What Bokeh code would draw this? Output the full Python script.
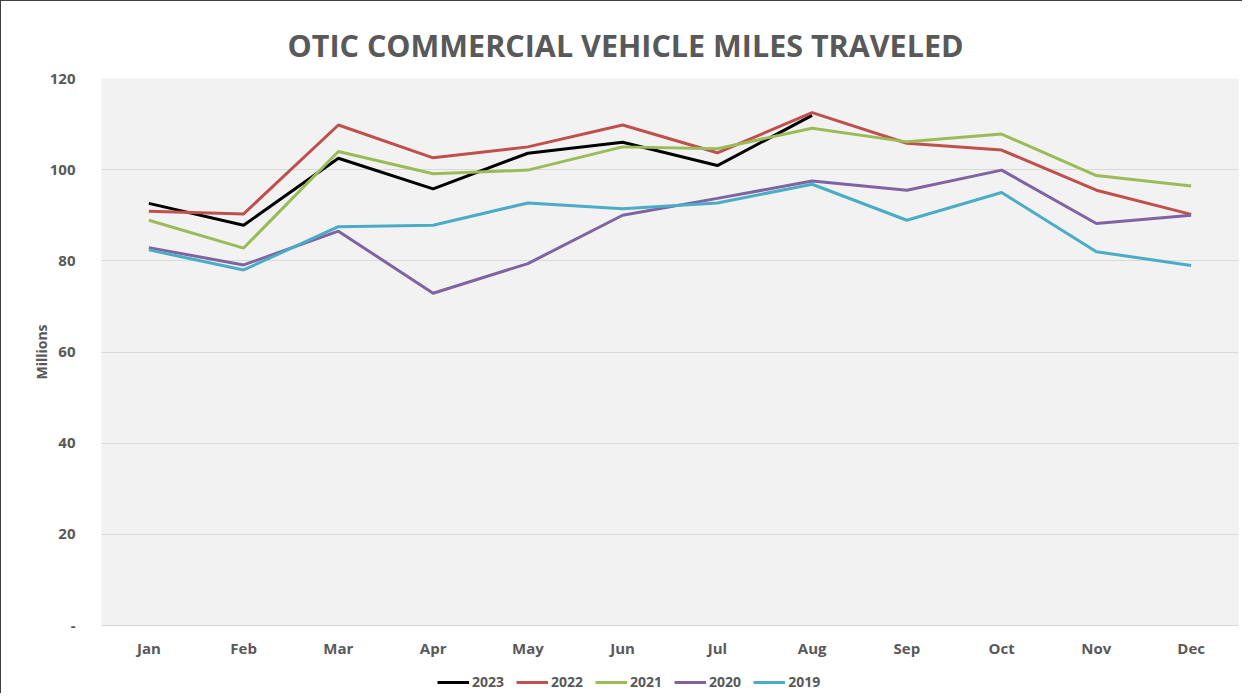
from bokeh.plotting import figure
from bokeh.layouts import column
from bokeh.models import FactorRange, Range1d, FixedTicker, Legend, LegendItem
from bokeh.embed import file_html
from bokeh.resources import INLINE

months = ["Jan", "Feb", "Mar", "Apr", "May", "Jun", "Jul", "Aug", "Sep", "Oct", "Nov", "Dec"]
y2023 = [92.6, 87.8, 102.5, 95.8, 103.6, 106.0, 100.9, 111.9]
y2022 = [90.9, 90.3, 109.8, 102.6, 105.0, 109.8, 103.7, 112.5, 105.8, 104.3, 95.5, 90.2]
y2021 = [88.9, 82.8, 104.0, 99.1, 99.9, 105.0, 104.6, 109.1, 106.1, 107.8, 98.7, 96.4]
y2020 = [82.9, 79.1, 86.5, 72.9, 79.4, 90.0, 93.7, 97.5, 95.5, 99.9, 88.2, 90.0]
y2019 = [82.4, 78.0, 87.5, 87.8, 92.7, 91.4, 92.7, 96.8, 88.9, 95.0, 82.0, 79.0]
series_names = ["2023", "2022", "2021", "2020", "2019"]
series_values = [y2023, y2022, y2021, y2020, y2019]
colors = ["#000000", "#C0504D", "#9BBB59", "#8064A2", "#4BACC6"]
y_ticks = [0, 20, 40, 60, 80, 100, 120]

FONT = "Open Sans"
GREY = "#595959"

p = figure(width=1241, height=660, x_range=FactorRange(*months, range_padding=0),
           y_range=Range1d(0, 120), output_backend="svg", toolbar_location=None,
           title="OTIC COMMERCIAL VEHICLE MILES TRAVELED",
           min_border_left=100, min_border_right=4, min_border_top=77, min_border_bottom=36)

p.background_fill_color = "#F2F2F2"
p.border_fill_color = "white"
p.outline_line_color = None

p.title.align = "left"
p.title.offset = 186
p.title.text_font = FONT
p.title.text_font_size = "30.5px"
p.title.text_font_style = "bold"
p.title.text_color = GREY
p.title.standoff = 26

p.xgrid.grid_line_color = None
p.ygrid.grid_line_color = "#D9D9D9"
p.ygrid.grid_line_width = 1

p.yaxis.ticker = FixedTicker(ticks=y_ticks)
p.yaxis.major_label_overrides = {0: "-"}
p.yaxis.axis_line_color = None
p.yaxis.major_tick_line_color = None
p.yaxis.minor_tick_line_color = None
p.yaxis.major_label_standoff = 20
p.yaxis.axis_label = "Millions"
p.yaxis.axis_label_text_font = FONT
p.yaxis.axis_label_text_font_size = "14px"
p.yaxis.axis_label_text_font_style = "bold"
p.yaxis.axis_label_text_color = GREY
p.yaxis.axis_label_standoff = -4

p.xaxis.axis_line_color = "#D9D9D9"
p.xaxis.major_tick_line_color = None
p.xaxis.minor_tick_line_color = None
p.xaxis.major_label_standoff = 6

for ax in (p.xaxis, p.yaxis):
    ax.major_label_text_font = FONT
    ax.major_label_text_font_size = "15px"
    ax.major_label_text_font_style = "bold"
    ax.major_label_text_color = GREY

for name, vals, c in zip(series_names, series_values, colors):
    p.line(months[:len(vals)], vals, line_color=c, line_width=3)

# legend strip below the chart (its lines lie outside its visible range; only the legend shows)
lg = figure(width=1241, height=32, x_range=FactorRange(*months, range_padding=0),
            y_range=Range1d(1000, 1001),
            output_backend="svg", toolbar_location=None, x_axis_type=None, y_axis_type=None,
            min_border=0, min_border_left=0, min_border_right=0, min_border_top=0, min_border_bottom=0)
lg.outline_line_color = None
lg.xgrid.grid_line_color = None
lg.ygrid.grid_line_color = None
lg.background_fill_color = "white"
lg.border_fill_color = "white"

items = []
for name, vals, c in zip(series_names, series_values, colors):
    r = lg.line(months[:len(vals)], vals, line_color=c, line_width=3)
    items.append(LegendItem(label=name, renderers=[r]))

legend = Legend(items=items, orientation="horizontal", location=(336, 2),
                glyph_width=32, glyph_height=16, label_standoff=3, spacing=12,
                padding=0, margin=0, label_height=16,
                label_text_font=FONT, label_text_font_size="14px",
                label_text_font_style="bold", label_text_color=GREY,
                border_line_color=None, background_fill_alpha=0)
lg.add_layout(legend, "center")

layout = column(p, lg, spacing=0)
layout.styles = {"border-left": "1px solid #404040", "border-top": "1px solid #404040"}

open("out.html", "w").write(file_html(layout, INLINE))
